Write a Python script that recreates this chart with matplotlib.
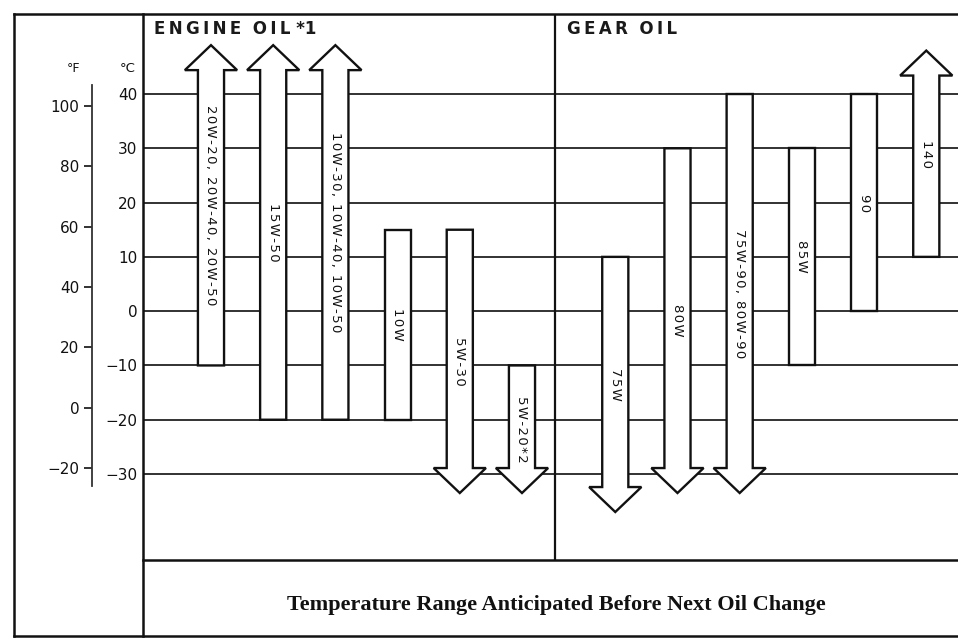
import numpy as np
import matplotlib.pyplot as plt
from matplotlib.patches import Polygon
from matplotlib.lines import Line2D

# recommended viscosity grades and the temperature span (degC) each one covers;
# 'up' / 'down' means the range keeps going past the end of the scale
engine_oils = ['20W-20, 20W-40, 20W-50', '15W-50', '10W-30, 10W-40, 10W-50',
               '10W', '5W-30', '5W-20*2']
engine_low = [-10, -20, -20, -20, -33.5, -33.5]
engine_high = [49, 49, 49, 15, 15, -10]
engine_open = ['up', 'up', 'up', '', 'down', 'down']

gear_oils = ['75W', '80W', '75W-90, 80W-90', '85W', '90', '140']
gear_low = [-37, -33.5, -33.5, -10, 0, 10]
gear_high = [10, 30, 40, 30, 40, 48]
gear_open = ['down', 'down', 'down', '', '', 'up']

celsius_ticks = [40, 30, 20, 10, 0, -10, -20, -30]
fahrenheit_ticks = [100, 80, 60, 40, 20, 0, -20]

W, H = 958, 639


def fx(px):
    return px / W


def fy(py):
    return 1 - py / H


def c2f(c):
    return np.asarray(c) * 9 / 5 + 32


def f2c(f):
    return (np.asarray(f) - 32) * 5 / 9


def spaced(s, sep='\u2009'):
    # open up the letter spacing a little
    return sep.join(s)


def arrow(ax, x, lo, hi, kind, w=0.21, hw=0.42, hl=4.6):
    if kind == 'up':
        pts = [(x - w, lo), (x + w, lo), (x + w, hi - hl), (x + hw, hi - hl),
               (x, hi), (x - hw, hi - hl), (x - w, hi - hl)]
    elif kind == 'down':
        pts = [(x - w, hi), (x + w, hi), (x + w, lo + hl), (x + hw, lo + hl),
               (x, lo), (x - hw, lo + hl), (x - w, lo + hl)]
    else:
        pts = [(x - w, lo), (x + w, lo), (x + w, hi), (x - w, hi)]
    ax.add_patch(Polygon(pts, closed=True, fc='white', ec='#111111', lw=1.7,
                         joinstyle='miter', zorder=3))


fig = plt.figure(figsize=(W / 100, H / 100), dpi=100)
fig.patch.set_facecolor('white')

ax = fig.add_axes([fx(143), fy(560), 1 - fx(143), fy(14) - fy(560)])
ax.set_xlim(-1.093, 12.01)
ax.set_ylim(-45.84, 54.74)
for s in ax.spines.values():
    s.set_visible(False)
ax.set_xticks([])
ax.set_yticks(celsius_ticks)
ax.tick_params(axis='y', length=0, pad=4, labelsize=11, labelcolor='#111111')
ax.grid(axis='y', color='#222222', lw=1.3)
ax.set_axisbelow(True)

# Fahrenheit scale off to the left
sec = ax.secondary_yaxis((92 - 143) / (958 - 143), functions=(c2f, f2c))
sec.set_yticks(fahrenheit_ticks)
sec.tick_params(axis='y', length=5.5, width=1.3, pad=3.5, labelsize=11,
                labelcolor='#111111', color='#222222')
sec.spines['left'].set_bounds(-26, 107)
sec.spines['left'].set_linewidth(1.3)
sec.spines['left'].set_color('#333333')

engine_x = np.arange(len(engine_oils))
gear_x = 6.5 + np.arange(len(gear_oils))

for xs, names, lows, highs, kinds in [
        (engine_x, engine_oils, engine_low, engine_high, engine_open),
        (gear_x, gear_oils, gear_low, gear_high, gear_open)]:
    for x, name, lo, hi, kind in zip(xs, names, lows, highs, kinds):
        arrow(ax, x, lo, hi, kind)
        ax.text(x, (lo + hi) / 2, spaced(name, '\u200a'), rotation=270,
                ha='center', va='center', fontsize=9.5, color='#111111', zorder=4)

# divider between engine and gear oil columns
ax.axvline(5.53, color='#111111', lw=1.6, zorder=2)

# outer frame
frame = [
    ([14, 14], [14, 636]),
    ([14, 958], [14, 14]),
    ([14, 958], [636, 636]),
    ([143, 143], [14, 636]),
    ([143, 958], [560, 560]),
]
for xs, ys in frame:
    fig.add_artist(Line2D([fx(v) for v in xs], [fy(v) for v in ys],
                          transform=fig.transFigure, color='#111111', lw=1.8))

fig.text(fx(154), fy(29), spaced('ENGINE') + '  ' + spaced('OIL') + ' *1',
         fontsize=12, fontweight='bold', ha='left', va='center', color='#1a1a1a')
fig.text(fx(567), fy(29), spaced('GEAR') + '  ' + spaced('OIL'),
         fontsize=12, fontweight='bold', ha='left', va='center', color='#1a1a1a')
fig.text(fx(73), fy(68), '°F', fontsize=9, ha='center', va='center', color='#111111')
fig.text(fx(128), fy(68), '°C', fontsize=9.5, ha='center', va='center', color='#111111')

fig.text(fx(556), fy(605), 'Temperature Range Anticipated Before Next Oil Change',
         fontsize=16, family='Liberation Serif', fontweight='bold',
         ha='center', va='center', color='#111111')

fig.savefig('out.png', dpi=100)
